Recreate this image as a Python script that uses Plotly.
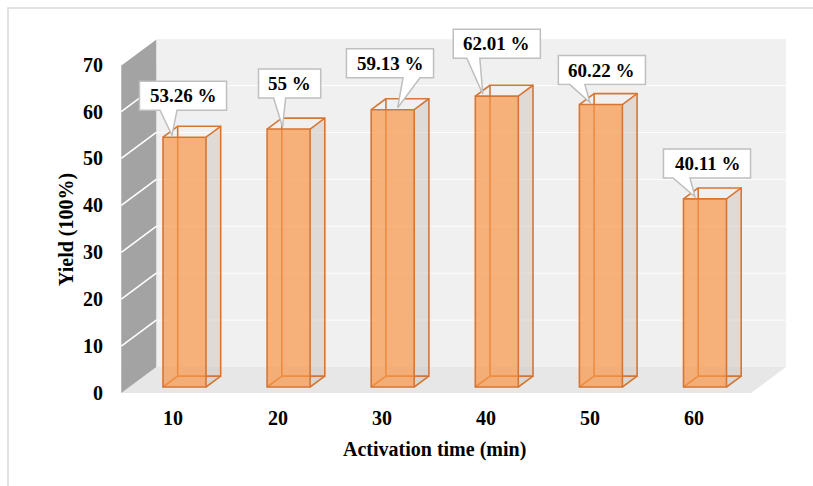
import plotly.graph_objects as go

# ---------------- data ----------------
categories = ["10", "20", "30", "40", "50", "60"]
yields = [53.26, 55.0, 59.13, 62.01, 60.22, 40.11]
value_labels = ["53.26 %", "55 %", "59.13 %", "62.01 %", "60.22 %", "40.11 %"]
y_ticks = [0, 10, 20, 30, 40, 50, 60, 70]
x_title = "Activation time (min)"
y_title = "Yield (100%)"

# ---------------- layout constants (pixels / scales) ----------------
W, H = 813, 486
PX_PER_CAT = 104.1
PX_PER_UNIT = 4.69
CAT0_PX = 184.5
ZERO_PX = 387.0

DX = 35 / PX_PER_CAT        # full depth offset, in category units
DY = 26 / PX_PER_UNIT       # full depth offset, in value units
TB = 0.23                   # bar front depth
T2 = 0.65                   # bar back depth
BAR_W = 43 / PX_PER_CAT
K_LEFT, K_RIGHT = -0.53, 5.52
Y_MAX = 70

FONT = "Liberation Serif"
EDGE = "rgb(214,118,52)"
FACE = "rgba(247,150,70,0.70)"

# callout styling offsets (pixels): gap above bar, box dx, pointer base (l, r), tip dx
callout_style = [
    (27, -1.5, -23, -6, -12.5),
    (31, 1.0, -16, -4, -6),
    (32, -2.7, 13, 30, 5),
    (38, 0.0, -30, -17, -14),
    (20, 1.0, -32, -17, -11),
    (21, 2.0, -34, -17, -10),
]


def P(k, v, t):
    """project (category, value, depth) to data coords"""
    return k + (t - TB) * DX, v + (t - TB) * DY


def path(points, close=True):
    s = "M " + " L ".join(f"{x:.5f},{y:.5f}" for x, y in points)
    return s + (" Z" if close else "")


shapes = []

# back wall
shapes.append(dict(type="path", layer="below", line=dict(width=0),
                   fillcolor="#f0f0f1",
                   path=path([P(K_LEFT, 0, 1), P(K_RIGHT, 0, 1), P(K_RIGHT, Y_MAX, 1), P(K_LEFT, Y_MAX, 1)])))
# floor
shapes.append(dict(type="path", layer="below", line=dict(width=0),
                   fillcolor="#e7e7e8",
                   path=path([P(K_LEFT, 0, 0), P(K_RIGHT, 0, 0), P(K_RIGHT, 0, 1), P(K_LEFT, 0, 1)])))
# left wall
shapes.append(dict(type="path", layer="below", line=dict(width=0),
                   fillcolor="#a3a3a3",
                   path=path([P(K_LEFT, 0, 0), P(K_LEFT, 0, 1), P(K_LEFT, Y_MAX, 1), P(K_LEFT, Y_MAX, 0)])))
# gridlines
for v in y_ticks[1:]:
    shapes.append(dict(type="path", layer="below", line=dict(color="white", width=1.6),
                       path=path([P(K_LEFT, v, 0), P(K_LEFT, v, 1)], close=False)))
    shapes.append(dict(type="path", layer="below", line=dict(color="rgba(255,255,255,0.9)", width=1),
                       path=path([P(K_LEFT, v, 1), P(K_RIGHT, v, 1)], close=False)))

# bar side faces and hidden edges
for k, v in enumerate(yields):
    l, r = k - BAR_W / 2, k + BAR_W / 2
    shapes.append(dict(type="path", layer="below", line=dict(width=0),
                       fillcolor="rgba(205,190,185,0.45)",
                       path=path([P(r, 0, TB), P(r, 0, T2), P(r, v, T2), P(r, v, TB)])))
    edges = [
        [P(l, 0, T2), P(r, 0, T2), P(r, v, T2), P(l, v, T2), P(l, 0, T2)],
        [P(l, 0, TB), P(l, 0, T2)],
        [P(r, 0, TB), P(r, 0, T2)],
        [P(l, v, TB), P(l, v, T2)],
        [P(r, v, TB), P(r, v, T2)],
    ]
    for e in edges:
        shapes.append(dict(type="path", layer="below", line=dict(color=EDGE, width=1.6),
                           path=path(e, close=False)))

# callout boxes
annotations = []
for k, (v, lab, st) in enumerate(zip(yields, value_labels, callout_style)):
    gap, bdx, bl, br, tdx = st
    bar_cx_px = CAT0_PX + k * PX_PER_CAT
    top_px = ZERO_PX - v * PX_PER_UNIT
    bw = 29 + 8.3 * len(lab)
    bh = 29
    cx = bar_cx_px + bdx
    bottom = top_px - gap
    tip = (bar_cx_px + tdx, top_px - 2)
    pts_px = [
        (cx - bw / 2, bottom - bh), (cx + bw / 2, bottom - bh), (cx + bw / 2, bottom),
        (cx + br, bottom), tip, (cx + bl, bottom), (cx - bw / 2, bottom),
    ]
    pts = [((x - CAT0_PX) / PX_PER_CAT, (ZERO_PX - y) / PX_PER_UNIT) for x, y in pts_px]
    shapes.append(dict(type="path", layer="above", fillcolor="white",
                       line=dict(color="#bfbfbf", width=1.5), path=path(pts)))
    annotations.append(dict(x=(cx - CAT0_PX) / PX_PER_CAT,
                            y=(ZERO_PX - (bottom - bh / 2)) / PX_PER_UNIT,
                            xref="x", yref="y", text=f"<b>{lab}</b>", showarrow=False,
                            xanchor="center", yanchor="middle",
                            font=dict(family=FONT, size=19, color="black")))

# y tick labels
for v in y_ticks:
    x, y = P(K_LEFT, v, 0)
    annotations.append(dict(x=x, y=y, xref="x", yref="y", text=f"<b>{v}</b>", showarrow=False,
                            xanchor="right", yanchor="middle", xshift=-16,
                            font=dict(family=FONT, size=20, color="black")))
# x tick labels
for k, c in enumerate(categories):
    x, y = P(k, 0, 0)
    annotations.append(dict(x=x, y=y, xref="x", yref="y", text=f"<b>{c}</b>", showarrow=False,
                            xanchor="center", yanchor="middle",
                            yshift=-25, xshift=-3, font=dict(family=FONT, size=20, color="black")))
# axis titles
annotations.append(dict(x=434 / W, y=1 - 449 / H, xref="paper", yref="paper", text=f"<b>{x_title}</b>",
                        xanchor="center", yanchor="middle",
                        showarrow=False, font=dict(family=FONT, size=20, color="black")))
annotations.append(dict(x=67 / W, y=1 - 230 / H, xref="paper", yref="paper", text=f"<b>{y_title}</b>",
                        xanchor="center", yanchor="middle",
                        showarrow=False, textangle=-90, font=dict(family=FONT, size=20, color="black")))

# outer border
shapes.append(dict(type="rect", xref="paper", yref="paper", x0=8 / W, x1=1.02, y0=-0.02, y1=1 - 8 / H,
                   line=dict(color="#d9d9d9", width=1.5), layer="below"))

fig = go.Figure()
fig.add_trace(go.Bar(x=list(range(len(yields))), y=yields, width=BAR_W,
                     marker=dict(color=FACE, line=dict(color=EDGE, width=1.6)),
                     hoverinfo="skip", showlegend=False))

fig.update_layout(
    width=W, height=H, autosize=False,
    margin=dict(l=0, r=0, t=0, b=0),
    paper_bgcolor="white", plot_bgcolor="white",
    shapes=shapes, annotations=annotations, showlegend=False,
)
fig.update_xaxes(visible=False, range=[(0 - CAT0_PX) / PX_PER_CAT, (W - CAT0_PX) / PX_PER_CAT])
fig.update_yaxes(visible=False, range=[(ZERO_PX - H) / PX_PER_UNIT, ZERO_PX / PX_PER_UNIT])

fig.write_html("out.html")
